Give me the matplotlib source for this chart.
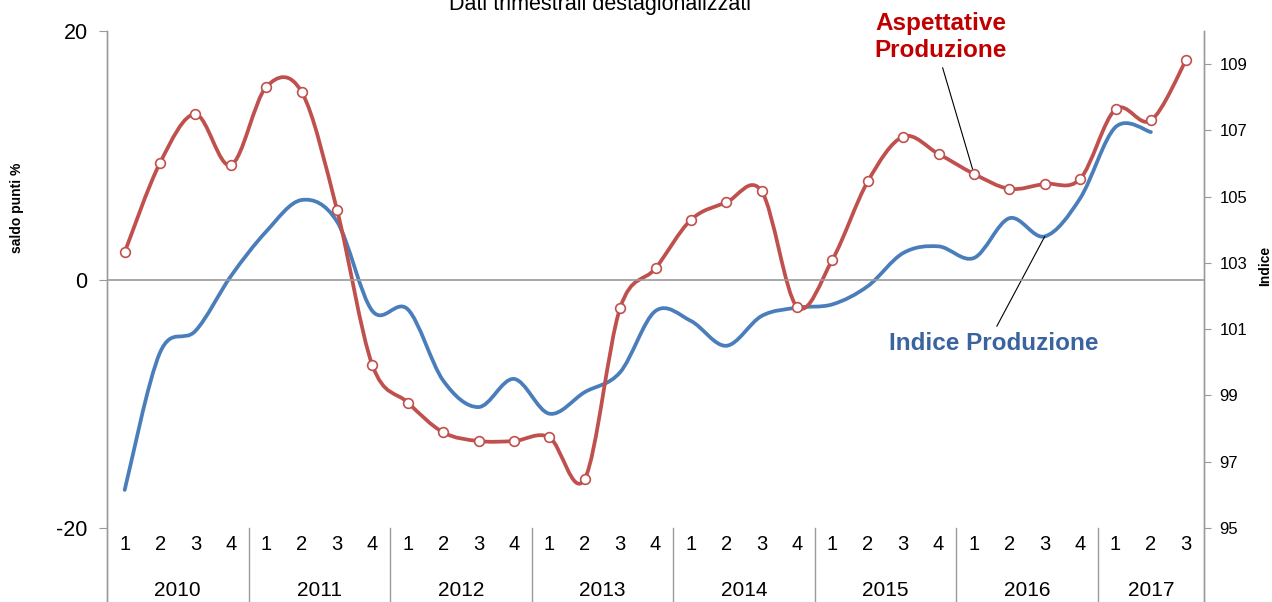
import matplotlib
matplotlib.use("Agg")
import matplotlib.pyplot as plt
from matplotlib.path import Path
from matplotlib.patches import PathPatch

plt.rcParams['font.family'] = ['Liberation Sans', 'DejaVu Sans']
plt.rcParams['axes.unicode_minus'] = False

# quarterly data 2010Q1 - 2017Q3
years = ['2010', '2011', '2012', '2013', '2014', '2015', '2016', '2017']
quarters = ['1', '2', '3', '4'] * 7 + ['1', '2', '3']

# expectations on production (saldo, left axis)
aspettative = [2.2, 9.4, 13.3, 9.2,
               15.5, 15.1, 5.6, -6.9,
               -9.9, -12.3, -13.0, -13.0,
               -12.7, -16.05, -2.3, 0.9,
               4.8, 6.2, 7.1, -2.2,
               1.6, 7.9, 11.5, 10.1,
               8.5, 7.3, 7.7, 8.1,
               13.7, 12.8, 17.7]

# industrial production index (right axis), last quarter not available
indice = [96.15, 100.3, 100.95, 102.6,
          103.95, 104.9, 104.25, 101.55,
          101.6, 99.45, 98.65, 99.5,
          98.45, 99.1, 99.7, 101.55,
          101.25, 100.5, 101.4, 101.65,
          101.75, 102.3, 103.3, 103.5,
          103.15, 104.35, 103.8, 104.95,
          107.1, 106.95]

RED = '#C0504D'
BLUE = '#4A7EBB'
GRID = '#9A9A9A'


def smooth_path(xs, ys):
    # Bezier path through every point, like the spreadsheet "smoothed line"
    verts = [(xs[0], ys[0])]
    codes = [Path.MOVETO]
    n = len(xs)
    for i in range(n - 1):
        a = i - 1 if i > 0 else i
        d = i + 2 if i + 2 < n else i + 1
        c1 = (xs[i] + (xs[i + 1] - xs[a]) / 6.0, ys[i] + (ys[i + 1] - ys[a]) / 6.0)
        c2 = (xs[i + 1] - (xs[d] - xs[i]) / 6.0, ys[i + 1] - (ys[d] - ys[i]) / 6.0)
        verts += [c1, c2, (xs[i + 1], ys[i + 1])]
        codes += [Path.CURVE4] * 3
    return Path(verts, codes)


W, H = 1272, 602
fig = plt.figure(figsize=(W / 100, H / 100), dpi=100)

x0, x1 = 107, 1204
ytop = 31
ax = fig.add_axes([x0 / W, 0, (x1 - x0) / W, (H - ytop) / H])
ax2 = ax.twinx()
ax.set_zorder(ax2.get_zorder() + 1)
ax.patch.set_visible(False)

# the value axes end at y=528 px, the category band sits below
band = (H - 528) / (H - ytop)
lo_left = -20 - band / (1 - band) * 40
lo_right = 95 - band / (1 - band) * 15
ax.set_ylim(lo_left, 20)
ax2.set_ylim(lo_right, 110)
ax.set_xlim(-0.5, len(quarters) - 0.5)

xr = list(range(len(aspettative)))
xb = list(range(len(indice)))

ax2.add_patch(PathPatch(smooth_path(xb, indice), fill=False, edgecolor=BLUE,
                        lw=2.7, capstyle='round', joinstyle='round'))
ax.add_patch(PathPatch(smooth_path(xr, aspettative), fill=False, edgecolor=RED,
                       lw=2.7, capstyle='round', joinstyle='round'))
ax.plot(xr, aspettative, 'o', ms=7, mfc='white', mec=RED, mew=1.2, zorder=5)

ax.axhline(0, color=GRID, lw=1.2, zorder=1)

for a in (ax, ax2):
    a.spines['top'].set_visible(False)
    a.spines['bottom'].set_visible(False)
    a.spines['left'].set_color(GRID)
    a.spines['right'].set_color(GRID)
    a.spines['left'].set_linewidth(1.0)
    a.spines['right'].set_linewidth(1.0)
    a.set_xticks([])

ax.set_yticks([-20, 0, 20])
ax.tick_params(axis='y', direction='out', length=6, color=GRID, labelsize=15.5, pad=8)
ax2.set_yticks(range(95, 110, 2))
ax2.tick_params(axis='y', direction='out', length=5, color=GRID, labelsize=12, pad=6)

# two-level category axis
for i, q in enumerate(quarters):
    ax.text(i, (H - 545) / (H - ytop), q, ha='center', va='center', fontsize=14.5,
            transform=ax.get_xaxis_transform())
for k, y in enumerate(years):
    nq = 4 if k < len(years) - 1 else 3
    ax.text(4 * k + (nq - 1) / 2, (H - 591) / (H - ytop), y, ha='center', va='center',
            fontsize=15, transform=ax.get_xaxis_transform())
    if k > 0:
        ax.plot([4 * k - 0.5] * 2, [0, band], color=GRID, lw=1.0,
                transform=ax.get_xaxis_transform(), clip_on=False)

fig.text(17 / W, 1 - 208 / H, 'saldo punti %', rotation=90, ha='center', va='center',
         fontsize=10, fontweight='bold')
fig.text(1265 / W, 1 - 266 / H, 'Indice', rotation=90, ha='center', va='center',
         fontsize=10, fontweight='bold')
fig.text(600 / W, 1 - 10 / H, 'Dati trimestrali destagionalizzati', ha='center',
         va='baseline', fontsize=15.5)

ax.annotate('Aspettative\nProduzione', xy=(24, aspettative[24]),
            xytext=(941 / W, 1 - 37 / H), textcoords='figure fraction',
            ha='center', va='center', fontsize=17.5, fontweight='bold',
            color='#C00000', linespacing=1.25,
            arrowprops=dict(arrowstyle='-', color='black', lw=0.8,
                            relpos=(0.5, 0), shrinkA=2, shrinkB=0))
ax2.annotate('Indice Produzione', xy=(26, indice[26]),
             xytext=(994 / W, 1 - 343 / H), textcoords='figure fraction',
             ha='center', va='center', fontsize=17.5, fontweight='bold',
             color='#3A64A0',
             arrowprops=dict(arrowstyle='-', color='black', lw=0.8,
                             relpos=(0.5, 1), shrinkA=2, shrinkB=0))

fig.savefig('out.png', dpi=100)
